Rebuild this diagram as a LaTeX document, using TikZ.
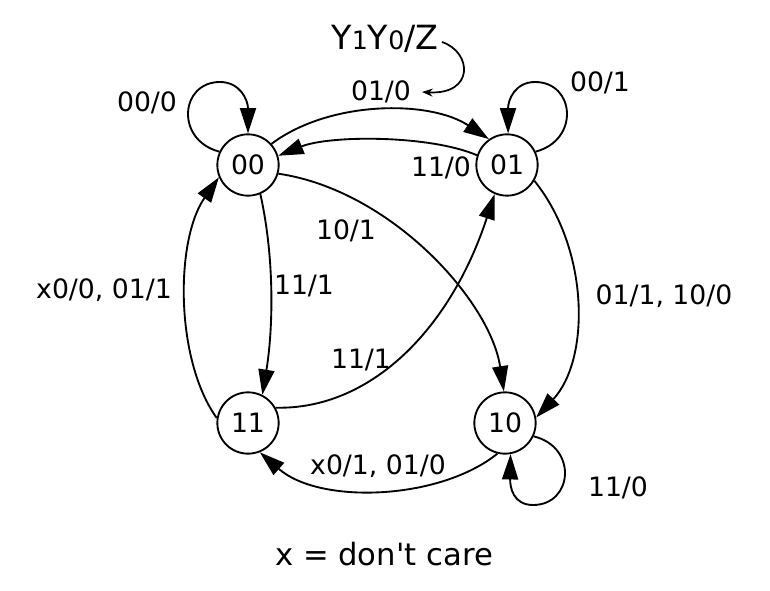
\documentclass[tikz,border=0pt]{standalone}
\usepackage{fontspec}
\setmainfont{DejaVu Sans}[Ligatures=TeXOff]
\usetikzlibrary{arrows.meta}
\begin{document}
\begin{tikzpicture}[x=0.75pt,y=-0.75pt,
  state/.style={circle,draw,line width=1.4pt,minimum size=46pt,inner sep=0pt,font=\fontsize{20}{24}\selectfont},
  edge/.style={line width=1.4pt,-{Triangle[length=19pt,width=12pt]}},
  lbl/.style={anchor=base,inner sep=0pt,font=\fontsize{20}{24}\selectfont},
  bigtxt/.style={anchor=base,inner sep=0pt,font=\fontsize{25}{30}\selectfont}]
\useasboundingbox (0,0) rectangle (770,591);
% states
\node[state] (n00) at (248,165) {00};
\node[state] (n01) at (507,165) {01};
\node[state] (n11) at (248,423) {11};
\node[state] (n10) at (505,423) {10};
% self loops
\draw[edge] (n00.155) .. controls (175,140) and (180,82) .. (220,82) .. controls (240,82) and (248,100) .. (n00.90);
\draw[edge] (n01.25) .. controls (580,140) and (575,82) .. (535,82) .. controls (515,82) and (508,100) .. (n01.88);
\draw[edge] (n10.-25) .. controls (578,447) and (573,505) .. (533,505) .. controls (513,505) and (510,487) .. (n10.-80);
% transitions
\draw[edge] (n00.42) .. controls (330,100) and (430,100) .. (n01.125);
\draw[edge] (n01.162) .. controls (430,135) and (330,135) .. (n00.17);
\draw[edge] (n00.-16) .. controls (390,190) and (490,300) .. (n10.92);
\draw[edge] (n00.-67) .. controls (275,260) and (273,330) .. (n11.63);
\draw[edge] (n11.29) .. controls (370,410) and (450,330) .. (n01.247);
\draw[edge] (n01.-30) .. controls (590,250) and (590,360) .. (n10.10);
\draw[edge] (n10.-104) .. controls (440,500) and (320,505) .. (n11.-68);
\draw[edge] (n11.171) .. controls (175,360) and (175,240) .. (n00.203);
% labels
\node[lbl] (l1) at (147,112) {00/0};
\node[lbl] (l2) at (600,92) {00/1};
\node[lbl] (l3) at (381,101) {01/0};
\node[lbl] (l4) at (441,177) {11/0};
\node[lbl] (l5) at (346,240) {10/1};
\node[lbl] (l6) at (304,295) {11/1};
\node[lbl] (l7) at (361,368) {11/1};
\node[lbl] (l8) at (664,305) {01/1, 10/0};
\node[lbl] (l9) at (618,496) {11/0};
\node[lbl] (l10) at (378,474) {x0/1, 01/0};
\node[lbl] (l11) at (104,299) {x0/0, 01/1};
% legend
\node[bigtxt] (title) at (385,50) {Y{\fontsize{19}{22}\selectfont 1}Y{\fontsize{19}{22}\selectfont 0}/Z};
\coordinate (ps) at (442,42);
\coordinate (pe) at (422,92);
\draw[line width=1.3pt,-{Stealth[length=8pt,width=6pt]}] (ps) .. controls (472,52) and (475,95) .. (pe);
\node[anchor=base,inner sep=0pt,font=\fontsize{23}{28}\selectfont] (cap) at (384,565) {x = don't care};
\end{tikzpicture}
\end{document}
